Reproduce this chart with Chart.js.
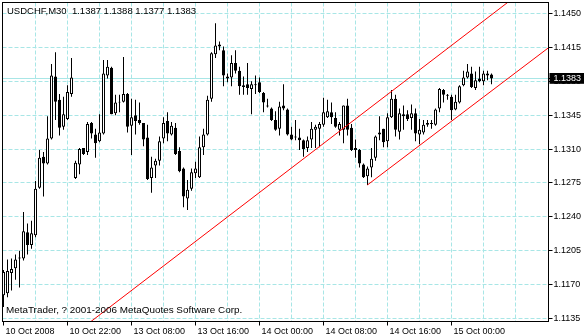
<!DOCTYPE html>
<html>
<head>
<meta charset="utf-8">
<title>USDCHF,M30</title>
<script src="https://cdn.jsdelivr.net/npm/chart.js@4.4.0/dist/chart.umd.min.js"></script>
<style>
  html, body { margin: 0; padding: 0; background: #fff; }
  canvas { display: block; }
</style>
</head>
<body>
<canvas id="chart" width="584" height="336"></canvas>
<script>
// USDCHF M30 bars, 10 Oct 2008 14:00 -> 15 Oct 05:00 (one value per bar)
const openP = [
  1.1159, 1.1161, 1.1182, 1.1187, 1.1198, 1.1197, 1.1224, 1.1211, 1.1221, 1.1270,
  1.1302, 1.1295, 1.1321, 1.1385, 1.1361, 1.1333, 1.1341, 1.1367, 1.1280, 1.1294,
  1.1311, 1.1307, 1.1337, 1.1325, 1.1318, 1.1326, 1.1386, 1.1394, 1.1347, 1.1359,
  1.1359, 1.1367, 1.1334, 1.1345, 1.1340, 1.1337, 1.1322, 1.1280, 1.1293, 1.1298,
  1.1321, 1.1339, 1.1325, 1.1332, 1.1308, 1.1290, 1.1259, 1.1269, 1.1285, 1.1281,
  1.1312, 1.1325, 1.1362, 1.1408, 1.1418, 1.1412, 1.1385, 1.1384, 1.1399, 1.1391,
  1.1374, 1.1377, 1.1372, 1.1376, 1.1379, 1.1368, 1.1355, 1.1352, 1.1340, 1.1331,
  1.1355, 1.1351, 1.1325, 1.1323, 1.1322, 1.1319, 1.1311, 1.1320, 1.1330, 1.1331,
  1.1335, 1.1343, 1.1348, 1.1342, 1.1330, 1.1330, 1.1355, 1.1332, 1.1311, 1.1309,
  1.1294, 1.1282, 1.1291, 1.1301, 1.1325, 1.1331, 1.1318, 1.1343, 1.1362, 1.1328,
  1.1344, 1.1346, 1.1342, 1.1347, 1.1325, 1.1327, 1.1335, 1.1336, 1.1335, 1.1352,
  1.1371, 1.1366, 1.1364, 1.1351, 1.1358, 1.1376, 1.1384, 1.1388, 1.1373, 1.1383,
  1.1380, 1.1388, 1.1387
];
const highP = [
  1.1185, 1.1196, 1.1197, 1.1201, 1.1205, 1.1245, 1.1233, 1.1236, 1.1277, 1.1309,
  1.1307, 1.1344, 1.1398, 1.1410, 1.1367, 1.1364, 1.1376, 1.1404, 1.1298, 1.1311,
  1.1311, 1.1338, 1.1338, 1.1331, 1.1346, 1.1402, 1.1402, 1.1395, 1.1366, 1.1366,
  1.1405, 1.1368, 1.1362, 1.1361, 1.1358, 1.1337, 1.1335, 1.1302, 1.1300, 1.1323,
  1.1343, 1.1348, 1.1338, 1.1337, 1.1312, 1.1291, 1.1278, 1.1290, 1.1297, 1.1323,
  1.1331, 1.1365, 1.1410, 1.1440, 1.1421, 1.1416, 1.1388, 1.1407, 1.1412, 1.1395,
  1.1385, 1.1399, 1.1380, 1.1386, 1.1384, 1.1369, 1.1362, 1.1353, 1.1349, 1.1359,
  1.1377, 1.1352, 1.1333, 1.1340, 1.1331, 1.1320, 1.1323, 1.1338, 1.1335, 1.1338,
  1.1363, 1.1361, 1.1358, 1.1348, 1.1338, 1.1355, 1.1362, 1.1336, 1.1320, 1.1310,
  1.1295, 1.1292, 1.1311, 1.1324, 1.1344, 1.1331, 1.1347, 1.1371, 1.1366, 1.1352,
  1.1355, 1.1350, 1.1356, 1.1352, 1.1341, 1.1340, 1.1340, 1.1340, 1.1352, 1.1373,
  1.1372, 1.1367, 1.1366, 1.1366, 1.1376, 1.1391, 1.1398, 1.1395, 1.1390, 1.1395,
  1.1391, 1.1391, 1.1388
];
const lowP = [
  1.1147, 1.1157, 1.1164, 1.1175, 1.1167, 1.1195, 1.1201, 1.1207, 1.1219, 1.1269,
  1.1261, 1.1294, 1.1320, 1.1340, 1.1324, 1.1330, 1.1340, 1.1364, 1.1279, 1.1284,
  1.1304, 1.1304, 1.1321, 1.1301, 1.1317, 1.1325, 1.1383, 1.1346, 1.1345, 1.1348,
  1.1358, 1.1327, 1.1304, 1.1325, 1.1335, 1.1313, 1.1278, 1.1265, 1.1280, 1.1293,
  1.1316, 1.1318, 1.1324, 1.1304, 1.1286, 1.1250, 1.1247, 1.1267, 1.1280, 1.1280,
  1.1304, 1.1324, 1.1359, 1.1404, 1.1412, 1.1375, 1.1379, 1.1375, 1.1388, 1.1366,
  1.1366, 1.1366, 1.1346, 1.1367, 1.1368, 1.1348, 1.1353, 1.1339, 1.1329, 1.1324,
  1.1350, 1.1324, 1.1319, 1.1319, 1.1309, 1.1302, 1.1307, 1.1311, 1.1311, 1.1312,
  1.1333, 1.1342, 1.1336, 1.1332, 1.1324, 1.1316, 1.1324, 1.1308, 1.1301, 1.1291,
  1.1280, 1.1273, 1.1281, 1.1298, 1.1319, 1.1312, 1.1312, 1.1342, 1.1323, 1.1320,
  1.1330, 1.1339, 1.1330, 1.1318, 1.1315, 1.1325, 1.1333, 1.1331, 1.1334, 1.1348,
  1.1358, 1.1361, 1.1340, 1.1350, 1.1357, 1.1375, 1.1383, 1.1373, 1.1371, 1.1379,
  1.1376, 1.1381, 1.1377
];
const closeP = [
  1.1183, 1.1184, 1.1186, 1.1196, 1.1197, 1.1225, 1.1211, 1.1223, 1.1269, 1.1301,
  1.1295, 1.1321, 1.1386, 1.1359, 1.1332, 1.1346, 1.1369, 1.1384, 1.1296, 1.1310,
  1.1305, 1.1336, 1.1326, 1.1316, 1.1327, 1.1388, 1.1395, 1.1346, 1.1358, 1.1358,
  1.1367, 1.1333, 1.1343, 1.1339, 1.1337, 1.1320, 1.1279, 1.1291, 1.1298, 1.1318,
  1.1337, 1.1326, 1.1334, 1.1305, 1.1287, 1.1261, 1.1268, 1.1286, 1.1290, 1.1312,
  1.1325, 1.1361, 1.1409, 1.1417, 1.1416, 1.1386, 1.1383, 1.1399, 1.1391, 1.1375,
  1.1376, 1.1373, 1.1377, 1.1377, 1.1369, 1.1358, 1.1354, 1.1340, 1.1330, 1.1354,
  1.1352, 1.1325, 1.1320, 1.1322, 1.1319, 1.1310, 1.1319, 1.1331, 1.1333, 1.1336,
  1.1348, 1.1349, 1.1343, 1.1333, 1.1336, 1.1355, 1.1330, 1.1309, 1.1309, 1.1295,
  1.1281, 1.1290, 1.1300, 1.1323, 1.1327, 1.1317, 1.1343, 1.1362, 1.1330, 1.1347,
  1.1346, 1.1341, 1.1347, 1.1326, 1.1330, 1.1335, 1.1337, 1.1337, 1.1351, 1.1372,
  1.1366, 1.1365, 1.1350, 1.1359, 1.1375, 1.1384, 1.1390, 1.1374, 1.1381, 1.1380,
  1.1388, 1.1386, 1.1383
];

// time axis labels: bar index -> text
const timeTickIdx = [0, 16, 32, 48, 64, 80, 96, 112];
const timeTickLabels = ['10 Oct 2008', '10 Oct 22:00', '13 Oct 08:00', '13 Oct 16:00',
  '14 Oct 00:00', '14 Oct 08:00', '14 Oct 16:00', '15 Oct 00:00'];

// price axis
const priceTicks = [1.1135, 1.1170, 1.1205, 1.1240, 1.1275, 1.1310, 1.1345, 1.1380, 1.1415, 1.1450];
const bidPrice = 1.1383;

// equidistant channel, [bar index, price]
const channelUpper = [[20, 1.1126], [130, 1.1474]];
const channelLower = [[91, 1.1273], [137, 1.1417]];

const symbolTitle = 'USDCHF,M30';
const copyright = 'MetaTrader, ? 2001-2006 MetaQuotes Software Corp.';

const gridColor = '#a8e6e6';
const tickFont = { family: '"Liberation Sans", Arial, sans-serif', size: 9 };

const n = openP.length;
const bodies = [], wicks = [], bodyFill = [];
for (let i = 0; i < n; i++) {
  bodies.push({ x: i, y: [openP[i], closeP[i]] });
  wicks.push({ x: i, y: [lowP[i], highP[i]] });
  bodyFill.push(closeP[i] > openP[i] ? '#ffffff' : '#000000');
}
const toXY = pts => pts.map(p => ({ x: p[0], y: p[1] }));

// frame, symbol line and copyright
const chartText = {
  id: 'chartText',
  afterDraw(chart) {
    const c = chart.ctx, a = chart.chartArea;
    const last = n - 1;
    c.save();
    c.strokeStyle = '#000';
    c.lineWidth = 1;
    c.strokeRect(a.left, a.top, a.right - a.left, a.bottom - a.top);
    c.fillStyle = '#000';
    c.font = '9.5px "Liberation Sans", Arial, sans-serif';
    const ohlc = [openP[last], highP[last], lowP[last], closeP[last]].map(v => v.toFixed(4)).join(' ');
    c.fillText(symbolTitle + '  ' + ohlc, 7, 14);
    c.font = '9.9px "Liberation Sans", Arial, sans-serif';
    c.fillText(copyright, 6, 313);
    c.restore();
  }
};

new Chart(document.getElementById('chart'), {
  type: 'bar',
  data: {
    datasets: [
      { type: 'line', data: toXY(channelUpper), borderColor: '#ff0000', borderWidth: 1,
        pointRadius: 0, tension: 0, fill: false, order: 0 },
      { type: 'line', data: toXY(channelLower), borderColor: '#ff0000', borderWidth: 1,
        pointRadius: 0, tension: 0, fill: false, order: 0 },
      { data: bodies, backgroundColor: bodyFill, borderColor: '#000', borderWidth: 1,
        borderSkipped: false, barThickness: 3, grouped: false, inflateAmount: 0, order: 1 },
      { data: wicks, backgroundColor: '#000', borderWidth: 0,
        barThickness: 1, grouped: false, inflateAmount: 0, order: 2 }
    ]
  },
  options: {
    responsive: false,
    animation: false,
    events: [],
    layout: { padding: { left: 2.5, top: 2.5, right: 0, bottom: 0 } },
    plugins: { legend: { display: false }, tooltip: { enabled: false } },
    scales: {
      x: {
        type: 'linear',
        min: -0.25,
        max: 136.25,
        offset: false,
        grid: {
          offset: false,
          lineWidth: 1,
          tickLength: 4,
          color: ctx => (ctx.tick && ctx.tick.value > 0 && ctx.tick.value < 136) ? gridColor : 'rgba(0,0,0,0)',
          tickColor: ctx => (ctx.tick && timeTickIdx.includes(ctx.tick.value)) ? '#000' : 'rgba(0,0,0,0)'
        },
        border: { display: false, dash: [4, 2] },
        ticks: {
          autoSkip: false,
          maxRotation: 0,
          align: 'start',
          labelOffset: 2,
          padding: 1,
          color: '#000',
          font: tickFont,
          callback: v => {
            const k = timeTickIdx.indexOf(v);
            return k >= 0 ? timeTickLabels[k] : '';
          }
        },
        afterBuildTicks: s => {
          const t = [];
          for (let v = 0; v <= 136; v += 8) t.push({ value: v });
          s.ticks = t;
        },
        afterFit: s => { s.height = 14.5; s.paddingLeft = 0; s.paddingRight = 0; }
      },
      y: {
        position: 'right',
        min: 1.11319,
        max: 1.14614,
        grid: {
          lineWidth: 1,
          tickLength: 4,
          color: gridColor,
          tickColor: '#000'
        },
        border: {
          display: false,
          dash: ctx => (ctx.tick && ctx.tick.value === bidPrice) ? [] : [4, 2]
        },
        ticks: {
          autoSkip: false,
          padding: 1,
          font: tickFont,
          color: ctx => (ctx.tick && ctx.tick.value === bidPrice) ? '#fff' : '#000',
          showLabelBackdrop: ctx => !!(ctx.tick && ctx.tick.value === bidPrice),
          backdropColor: '#000',
          backdropPadding: { left: 4, right: 8, top: 0, bottom: 0 },
          callback: v => v.toFixed(4)
        },
        afterBuildTicks: s => {
          s.ticks = priceTicks.concat([bidPrice]).map(v => ({ value: v }));
        },
        afterFit: s => { s.width = 35.5; s.paddingTop = 0; s.paddingBottom = 0; }
      }
    }
  },
  plugins: [chartText]
});
</script>
</body>
</html>
